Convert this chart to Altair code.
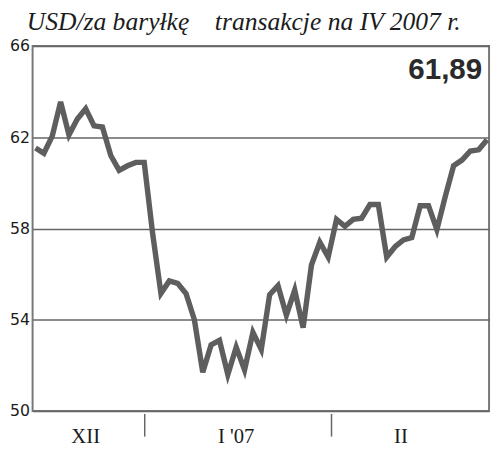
import altair as alt
import pandas as pd

# trading-day index and price (USD per barrel)
days = list(range(55))
prices = [61.53, 61.3, 62.05, 63.55, 62.1, 62.8, 63.25, 62.5, 62.45, 61.2,
          60.55, 60.75, 60.9, 60.9, 57.8, 55.16, 55.7, 55.6, 55.15, 54.0,
          51.7, 52.9, 53.1, 51.6, 52.8, 51.8, 53.45, 52.7, 55.1, 55.5,
          54.2, 55.3, 53.65, 56.4, 57.4, 56.75, 58.4, 58.1, 58.4, 58.45,
          59.05, 59.05, 56.75, 57.2, 57.5, 57.6, 59.0, 59.0, 57.95, 59.4,
          60.75, 61.0, 61.4, 61.45, 61.89]

month_labels = ["XII", "I '07", "II"]
month_centers = [6.0, 24.0, 43.7]
month_breaks = [13.06, 35.4]

y_ticks = [50, 54, 58, 62, 66]
title_text = "USD/za baryłkę" + "\u00a0" * 4 + "transakcje na IV 2007 r."
last_label = f"{prices[-1]:.2f}".replace(".", ",")

W, H = 464, 371
LINE = "#5e5e5e"
TXT = "#1c1c1c"

df = pd.DataFrame({"day": days, "price": prices})
df_months = pd.DataFrame({"day": month_centers, "label": month_labels})
df_breaks = pd.DataFrame({"day": month_breaks})

xs = alt.Scale(domain=[-0.35, 54.24], nice=False, zero=False)
ys = alt.Scale(domain=[50, 66], nice=False, zero=False)

line = alt.Chart(df).mark_line(color=LINE, strokeWidth=5.5, strokeJoin="miter").encode(
    x=alt.X("day:Q", scale=xs, axis=None),
    y=alt.Y("price:Q", scale=ys, axis=alt.Axis(
        values=y_ticks, grid=True, gridColor="#666666", gridWidth=1.5,
        ticks=False, domain=False, labelPadding=3, labelFont="DejaVu Sans",
        labelFontSize=16, labelColor=TXT, title=None)),
)

breaks = alt.Chart(df_breaks).mark_rule(color="#666666", strokeWidth=1.5).encode(
    x=alt.X("day:Q", scale=xs), y=alt.value(374), y2=alt.value(397))

months = alt.Chart(df_months).mark_text(
    font="Liberation Serif", fontSize=21, color=TXT, align="center", baseline="alphabetic"
).encode(x=alt.X("day:Q", scale=xs), y=alt.value(404), text="label:N")

title = alt.Chart(pd.DataFrame({"t": [title_text]})).mark_text(
    font="Liberation Serif", fontStyle="italic", fontSize=26, color=TXT,
    align="left", baseline="alphabetic"
).encode(x=alt.value(-6), y=alt.value(-16), text="t:N")

last = alt.Chart(pd.DataFrame({"t": [last_label]})).mark_text(
    font="Liberation Sans", fontWeight="bold", fontSize=30, color="#2a2a2a",
    align="right", baseline="alphabetic"
).encode(x=alt.value(457), y=alt.value(34), text="t:N")

chart = alt.layer(line, breaks, months, title, last).properties(
    width=W, height=H,
    autosize=alt.AutoSizeParams(type="none"),
    padding={"left": 25, "top": 35, "right": 3, "bottom": 38},
    background="white",
).configure_view(stroke="#777777", strokeWidth=2)

chart.save("out.html", embed_options={"renderer": "svg", "actions": False})
